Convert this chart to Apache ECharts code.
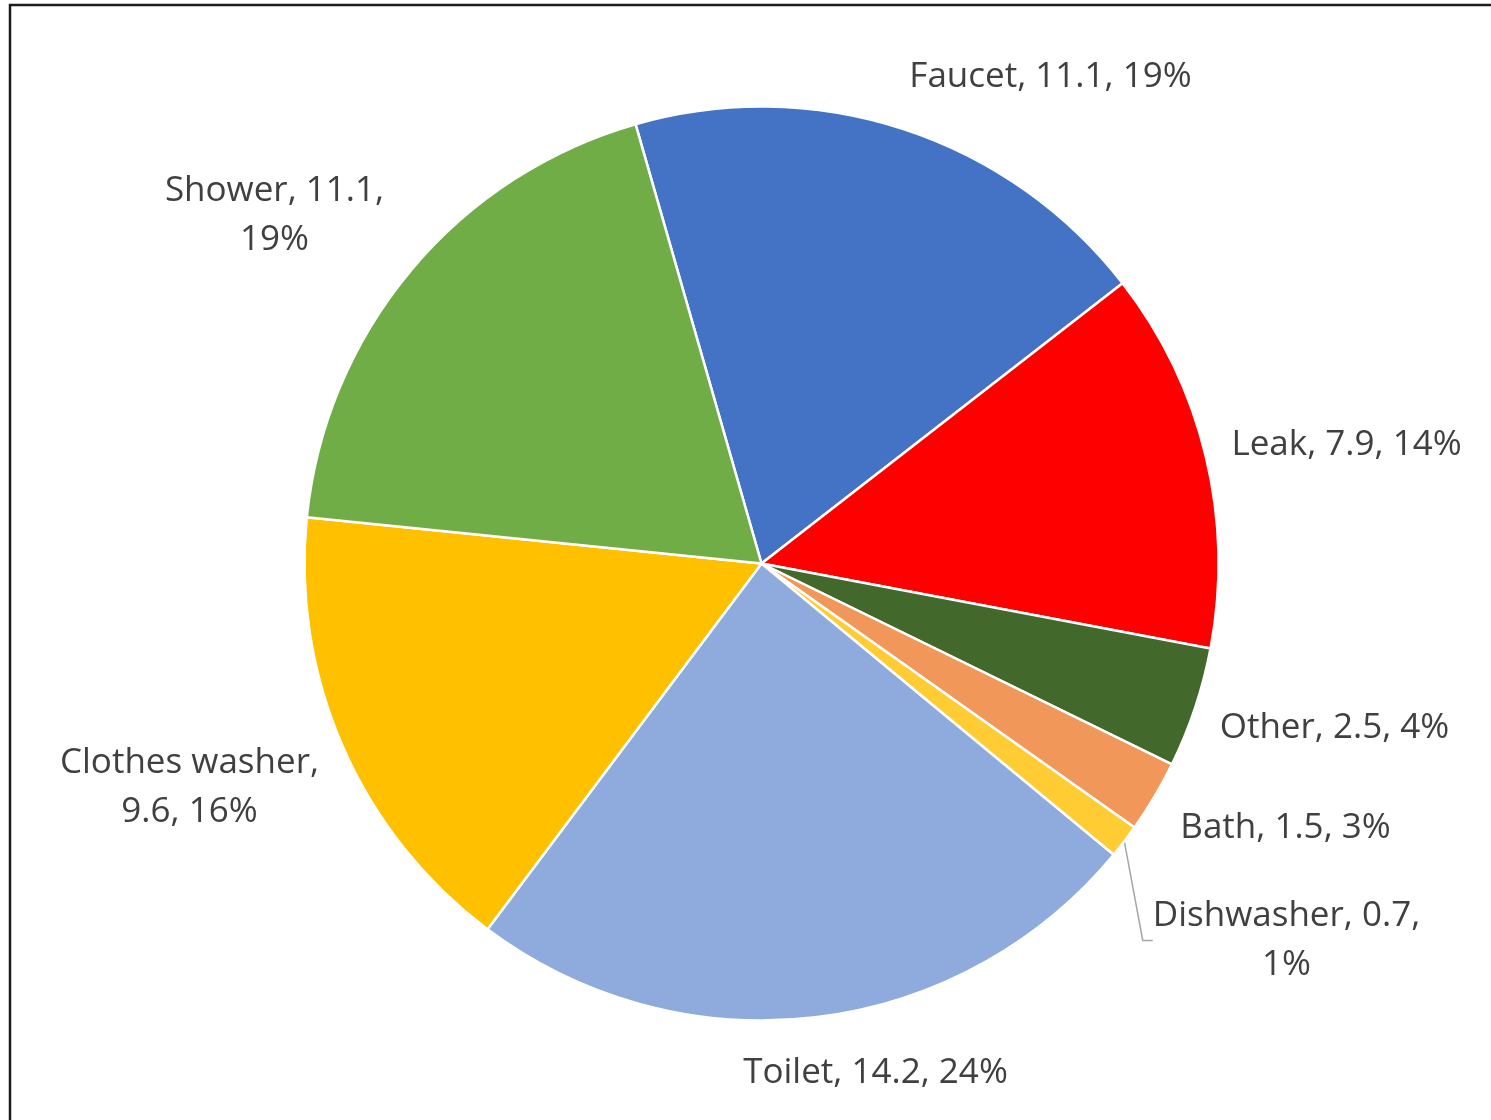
<!DOCTYPE html>
<html>
<head>
<meta charset="utf-8">
<title>Household water use</title>
<script src="https://cdn.jsdelivr.net/npm/echarts@6/dist/echarts.min.js"></script>
<style>
  html, body { margin: 0; padding: 0; background: #ffffff; }
  #chart { width: 1491px; height: 1120px; }
</style>
</head>
<body>
<div id="chart"></div>
<script>
// End uses of indoor water, in clockwise order from the top
const categories = ['Faucet', 'Leak', 'Other', 'Bath', 'Dishwasher', 'Toilet', 'Clothes washer', 'Shower'];
const values = [11.1, 7.9, 2.5, 1.5, 0.7, 14.2, 9.6, 11.1];
const colors = ['#4472C4', '#FF0000', '#43682B', '#F1975A', '#FFCD33', '#8FAADC', '#FFC000', '#70AD47'];

// Where a label wraps onto a second line: after the name or after the value
const labelWrap = { 'Shower': 'value', 'Clothes washer': 'name', 'Dishwasher': 'value' };

// Label centres, in pixels relative to the pie centre
const labelOffsets = [
  [289, -486],   // Faucet
  [585, -118],   // Leak
  [573, 165],    // Other
  [524, 265],    // Bath
  [525, 377],    // Dishwasher
  [114, 510],    // Toilet
  [-572, 224],   // Clothes washer
  [-487, -348]   // Shower
];

const CX = 761.5, CY = 563.5, R = 457;

const chart = echarts.init(document.getElementById('chart'), null, { renderer: 'canvas' });

const data = categories.map((name, i) => {
  const item = { name: name, value: values[i], itemStyle: { color: colors[i] } };
  if (name === 'Dishwasher') {
    item.labelLine = { show: true, length: 12, length2: 10, lineStyle: { color: '#A6A6A6', width: 1.5 } };
  }
  return item;
});

chart.setOption({
  animation: false,
  backgroundColor: '#ffffff',
  graphic: [{
    type: 'rect',
    shape: { x: 10, y: 5, width: 1700, height: 1300 },
    style: { fill: 'none', stroke: '#1c1c1c', lineWidth: 2.5 },
    silent: true
  }],
  series: [{
    type: 'pie',
    center: [CX, CY],
    radius: R,
    startAngle: 106,
    clockwise: true,
    percentPrecision: 0,
    avoidLabelOverlap: false,
    itemStyle: { borderColor: '#ffffff', borderWidth: 2.5 },
    label: {
      show: true,
      position: 'outside',
      color: '#404040',
      fontFamily: 'Open Sans',
      fontSize: 35,
      lineHeight: 49,
      align: 'center',
      formatter: function (p) {
        const wrap = labelWrap[p.name];
        if (wrap === 'name') return p.name + ',\n' + p.value + ', ' + p.percent + '%';
        if (wrap === 'value') return p.name + ', ' + p.value + ',\n' + p.percent + '%';
        return p.name + ', ' + p.value + ', ' + p.percent + '%';
      }
    },
    labelLine: { show: false },
    labelLayout: function (params) {
      const off = labelOffsets[params.dataIndex];
      return { x: CX + off[0], y: CY + off[1], align: 'center', verticalAlign: 'middle' };
    },
    emphasis: { disabled: true },
    data: data
  }]
});
</script>
</body>
</html>
